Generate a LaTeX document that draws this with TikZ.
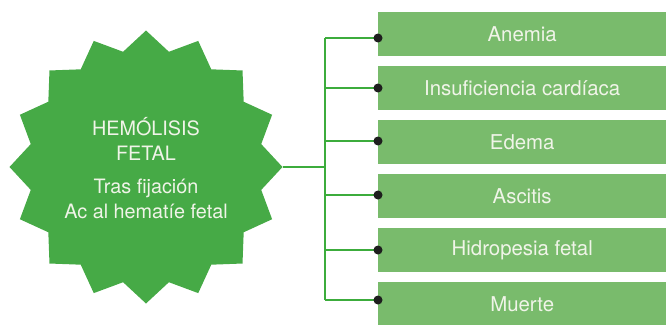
\documentclass[tikz,border=0pt]{standalone}
\usepackage{fontspec}
\setmainfont{TeX Gyre Heros}
\usetikzlibrary{shapes.geometric}
\definecolor{stargreen}{RGB}{70,170,70}
\definecolor{boxgreen}{RGB}{121,187,108}
\definecolor{linegreen}{RGB}{60,172,60}
\definecolor{txt}{RGB}{240,244,232}
\definecolor{dotc}{RGB}{30,30,30}
\tikzset{
  box/.style={rectangle, fill=boxgreen, anchor=west, minimum width=288pt, minimum height=44pt, inner sep=0pt, text=txt, font=\fontsize{20.4}{22}\selectfont},
  conn/.style={draw=linegreen, line width=1.1pt},
  dotm/.style={circle, fill=dotc, inner sep=0pt, minimum size=9pt}
}
\begin{document}
\begin{tikzpicture}[x=1pt,y=-1pt]
\useasboundingbox (0,0) rectangle (666,324);
\node[star, star points=16, star point ratio=1.162, minimum size=273pt, inner sep=0pt, fill=stargreen, draw=none] (st) at (146,167) {};
\node[text=txt, align=center, font=\fontsize{19.8}{25.5}\selectfont] (stt) at (146,168) {HEMÓLISIS\\FETAL\\[7pt]Tras fijación\\Ac al hematíe fetal};
\node[box] (b1) at (378,34) {Anemia};
\node[box] (b2) at (378,88) {Insuficiencia cardíaca};
\node[box] (b3) at (378,142) {Edema};
\node[box] (b4) at (378,196) {Ascitis};
\node[box] (b5) at (378,250) {Hidropesia fetal};
\node[box] (b6) at (378,304) {Muerte};
\coordinate (j) at (325,167);
\coordinate (t1) at (325,38);
\coordinate (t2) at (325,88);
\coordinate (t3) at (325,141);
\coordinate (t4) at (325,195);
\coordinate (t5) at (325,250);
\coordinate (t6) at (325,300);
\coordinate (d1) at (378,38);
\coordinate (d2) at (378,88);
\coordinate (d3) at (378,141);
\coordinate (d4) at (378,195);
\coordinate (d5) at (378,250);
\coordinate (d6) at (378,300);
\draw[conn] (st.east) -- (j);
\draw[conn] (t1) -- (t6);
\foreach \i in {1,...,6}{
  \draw[conn] (t\i) -- (d\i);
  \node[dotm] at (d\i) {};
}
\end{tikzpicture}
\end{document}
